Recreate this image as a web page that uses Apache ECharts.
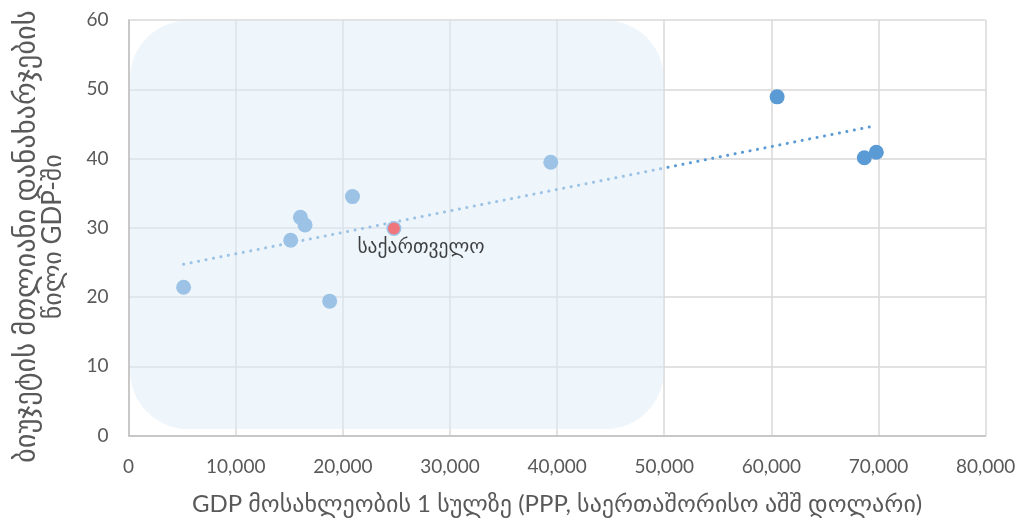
<!DOCTYPE html>
<html>
<head>
<meta charset="utf-8">
<script src="https://cdn.jsdelivr.net/npm/echarts@6/dist/echarts.min.js"></script>
<style>
  html, body { margin: 0; padding: 0; background: #ffffff; }
  #chart { width: 1021px; height: 522px; }
</style>
</head>
<body>
<div id="chart"></div>
<script>
// GDP per capita (PPP, international $) and total budget spending as a share of GDP (%)
const gdpPerCapita  = [5135, 15130, 16040, 16470, 18770, 20900, 24770, 39410, 60540, 68680, 69800];
const spendingShare = [21.4, 28.2, 31.5, 30.4, 19.4, 34.5, 29.9, 39.45, 48.9, 40.1, 40.9];

// highlighted country
const highlightIndex = 6;
const highlightName = 'საქართველო';

// axis ranges / ticks
const xRange = [0, 80000];
const xStep = 10000;
const yRange = [0, 60];
const yStep = 10;

// shaded band (data coordinates)
const bandX = [0, 50000];
const bandY = [1, 60];

const xAxisTitle = 'GDP მოსახლეობის 1 სულზე (PPP, საერთაშორისო აშშ დოლარი)';
const yAxisTitleLines = ['ბიუჯეტის მთლიანი დანახარჯების', 'წილი GDP-ში'];

// least-squares linear trend through all points
function linearTrend(xs, ys) {
  const n = xs.length;
  const mx = xs.reduce((a, b) => a + b, 0) / n;
  const my = ys.reduce((a, b) => a + b, 0) / n;
  let sxy = 0, sxx = 0;
  for (let i = 0; i < n; i++) {
    sxy += (xs[i] - mx) * (ys[i] - my);
    sxx += (xs[i] - mx) * (xs[i] - mx);
  }
  const slope = sxy / sxx;
  const x0 = Math.min(...xs), x1 = Math.max(...xs);
  return [[x0, my + slope * (x0 - mx)], [x1, my + slope * (x1 - mx)]];
}

const points = gdpPerCapita.map((x, i) => [x, spendingShare[i]]);
const highlightPoint = [gdpPerCapita[highlightIndex], spendingShare[highlightIndex]];
const trend = linearTrend(gdpPerCapita, spendingShare);

const FONT = "Lato, 'DejaVu Sans', sans-serif";
const GREY_TEXT = '#595959';

const chart = echarts.init(document.getElementById('chart'), null, { renderer: 'canvas' });

chart.setOption({
  animation: false,
  backgroundColor: '#ffffff',
  grid: {
    left: 128.6, right: 35.4, top: 20, bottom: 86.5,
    containLabel: false, outerBoundsMode: 'none'
  },
  xAxis: {
    type: 'value',
    min: xRange[0], max: xRange[1], interval: xStep,
    name: xAxisTitle,
    nameLocation: 'middle',
    nameGap: 57,
    nameTextStyle: { color: GREY_TEXT, fontSize: 24, fontFamily: FONT },
    axisLine: { show: true, lineStyle: { color: '#bfbfbf', width: 1.5 } },
    axisTick: { show: false },
    axisLabel: {
      color: GREY_TEXT, fontSize: 19, fontFamily: FONT, margin: 22,
      formatter: v => v.toLocaleString('en-US')
    },
    splitLine: { show: true, lineStyle: { color: '#d9d9d9', width: 1.5 } }
  },
  yAxis: {
    type: 'value',
    min: yRange[0], max: yRange[1], interval: yStep,
    name: '{a|' + yAxisTitleLines[0] + '}\n{b|' + yAxisTitleLines[1] + '}',
    nameLocation: 'middle',
    nameGap: 62,
    nameRotate: 90,
    nameTextStyle: {
      color: GREY_TEXT, fontFamily: FONT, align: 'center',
      padding: [0, 18, 0, 0],
      rich: {
        a: { fontSize: 28.5, lineHeight: 27, fontFamily: FONT, color: GREY_TEXT, align: 'center' },
        b: { fontSize: 26, lineHeight: 27, fontFamily: FONT, color: GREY_TEXT, align: 'center' }
      }
    },
    axisLine: { show: true, lineStyle: { color: '#bfbfbf', width: 1.5 } },
    axisTick: { show: false },
    axisLabel: { color: GREY_TEXT, fontSize: 19, fontFamily: FONT, margin: 20 },
    splitLine: { show: true, lineStyle: { color: '#d9d9d9', width: 1.5 } }
  },
  series: [
    {
      name: 'trend',
      type: 'line',
      data: trend,
      symbol: 'none',
      z: 3,
      lineStyle: { color: '#5b9bd5', width: 3, type: [0.1, 7.5], cap: 'round' }
    },
    {
      name: 'countries',
      type: 'scatter',
      data: points,
      symbolSize: 15,
      z: 4,
      itemStyle: { color: '#5b9bd5', opacity: 1 }
    },
    {
      name: 'highlight',
      type: 'scatter',
      data: [highlightPoint],
      symbolSize: 12,
      z: 5,
      itemStyle: { color: '#ff0000', opacity: 1 }
    },
    {
      name: 'highlight-label',
      type: 'scatter',
      data: [highlightPoint],
      symbolSize: 0,
      z: 60,
      label: {
        show: true,
        position: 'bottom',
        distance: 9,
        offset: [27, 0],
        formatter: highlightName,
        color: '#111111',
        fontSize: 19.5,
        fontFamily: "'DejaVu Sans', serif"
      }
    }
  ]
});

// translucent rounded band over the lower-income range
const p0 = chart.convertToPixel({ gridIndex: 0 }, [bandX[0], bandY[1]]);
const p1 = chart.convertToPixel({ gridIndex: 0 }, [bandX[1], bandY[0]]);
chart.setOption({
  graphic: [{
    type: 'rect',
    silent: true,
    z: 50,
    shape: { x: p0[0] + 1.5, y: p0[1] + 0.5, width: p1[0] - p0[0] - 2, height: p1[1] - p0[1], r: 58 },
    style: { fill: 'rgba(221, 235, 247, 0.5)' }
  }]
});
</script>
</body>
</html>
